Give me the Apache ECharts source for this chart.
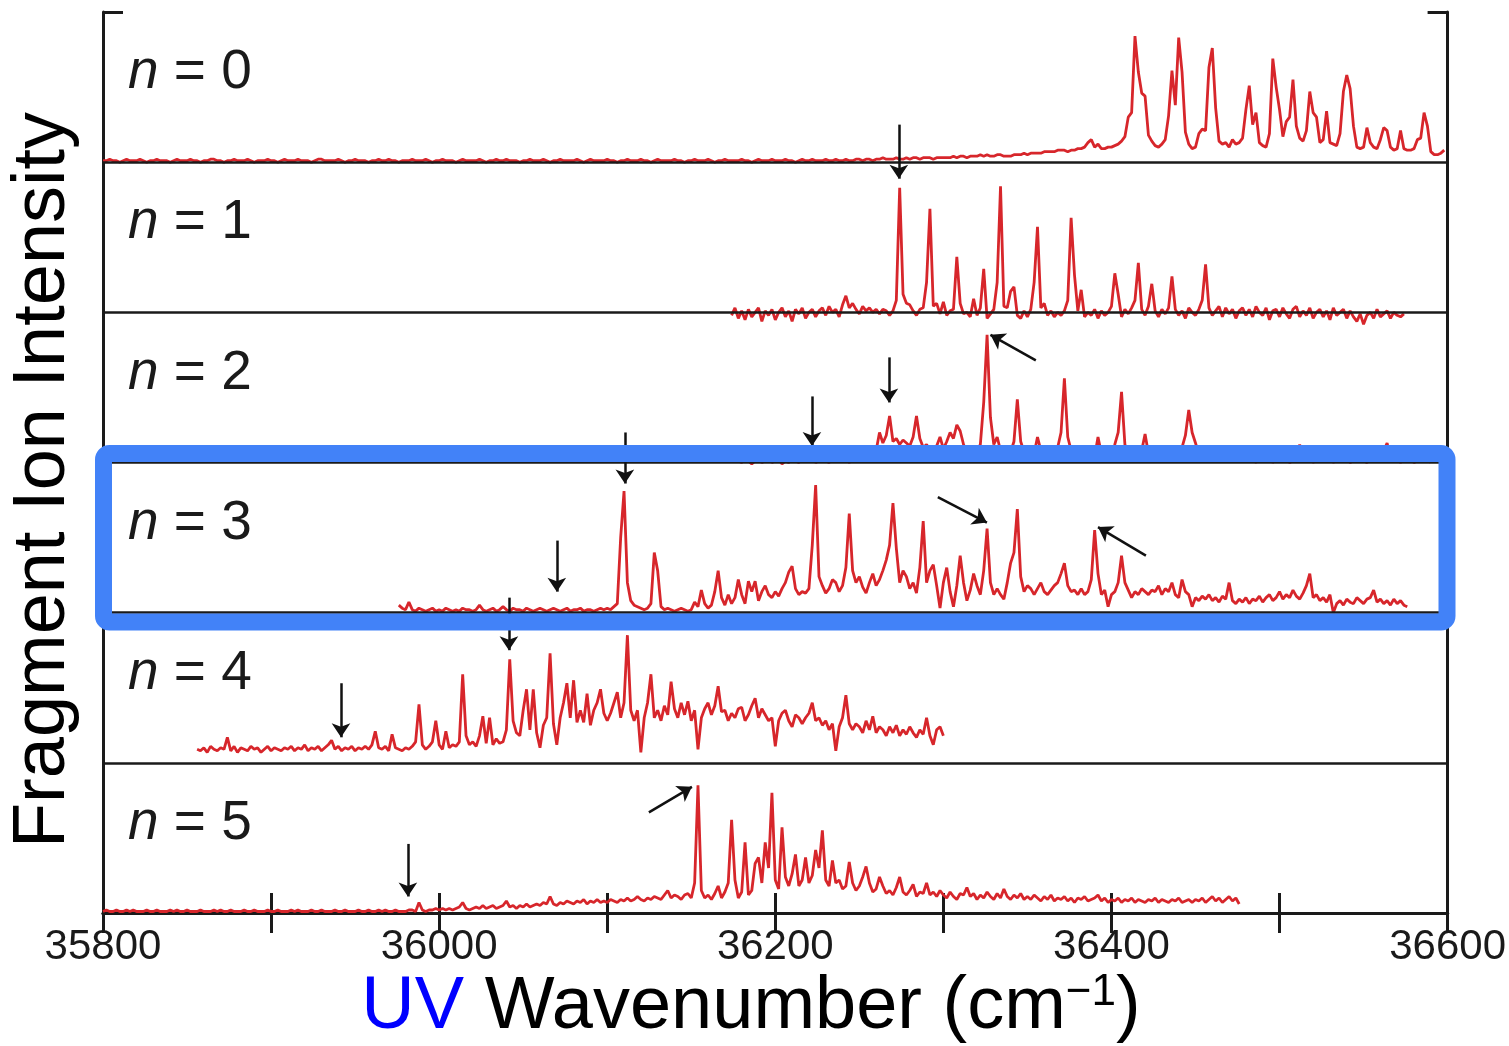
<!DOCTYPE html>
<html>
<head>
<meta charset="utf-8">
<script src="https://cdn.jsdelivr.net/npm/echarts@6/dist/echarts.min.js"></script>
<style>
  html, body { margin: 0; padding: 0; background: #fff; }
  #main { width: 1509px; height: 1046px; }
</style>
</head>
<body>
<div id="main"></div>
<script>
// spectra sampled every 2 cm-1, intensity in % of one panel height
var STEP = 2;

var n0Start = 35800;
var n0Values = [
  1,1,2,1,1,0,1,2,1,1,1,2,1,0,1,1,2,1,1,1,0,1,2,1,1,
  1,2,1,1,0,1,1,2,2,1,1,0,1,1,2,1,1,1,2,1,0,1,1,1,2,
  1,1,0,1,2,1,1,1,2,1,1,1,0,1,2,2,1,1,1,1,2,1,0,1,1,
  2,1,1,1,0,1,1,2,1,1,2,1,1,0,1,1,1,2,1,1,1,2,1,0,1,
  1,2,1,1,1,0,1,2,1,1,1,1,2,1,0,1,1,2,1,1,2,1,1,1,0,
  1,1,2,1,1,1,2,1,0,1,1,2,1,1,1,1,2,1,0,1,2,1,1,1,1,
  2,1,1,0,1,1,2,1,1,1,2,1,1,0,1,2,1,1,1,1,2,1,1,0,1,
  1,2,1,1,1,2,1,0,1,1,2,1,1,1,1,2,1,1,0,1,2,1,1,1,2,
  1,1,1,2,1,1,0,1,2,1,1,2,1,1,1,2,1,1,2,1,1,2,1,1,2,
  2,1,2,2,1,2,2,3,2,2,2,3,2,2,3,2,3,3,2,3,3,3,2,3,3,
  3,3,3,4,3,4,4,3,4,4,4,5,4,5,4,4,5,5,4,4,4,5,5,5,6,
  5,6,6,6,6,7,7,7,7,8,8,8,7,8,8,9,9,10,13,15,10,12,9,9,10,
  10,11,12,14,17,30,33,84,60,46,44,18,14,11,10,12,15,31,61,38,83,60,20,12,9,
  10,19,22,21,63,76,36,14,12,13,10,15,12,13,16,35,51,25,33,13,11,10,19,69,50,
  35,17,27,30,55,24,16,14,21,47,33,30,13,15,34,13,12,11,19,47,58,49,24,10,9,
  10,23,13,10,9,15,23,21,10,8,9,21,9,8,8,9,15,16,33,24,7,5,5,6,8
];

var n1Start = 36174;
var n1Values = [
  -2,3,-4,1,-5,2,-3,0,3,-6,1,-2,2,-5,0,3,-3,1,-6,2,-1,3,-4,0,2,
  -3,1,3,-2,4,0,2,-3,5,11,3,6,2,-1,4,1,3,0,2,-1,2,1,-2,1,8,
  83,12,6,5,1,-2,2,3,20,69,4,6,-1,7,-2,1,2,37,6,-1,0,-3,9,-2,3,
  29,-4,-1,2,20,84,4,3,14,17,-2,-4,1,-3,2,20,57,3,6,-2,1,-3,0,-2,1,
  8,63,25,1,15,-3,0,-2,2,-4,1,-2,0,4,26,12,-3,2,-1,3,8,33,2,-2,4,
  19,1,-3,2,-1,3,24,2,-2,1,-4,3,0,-2,2,8,32,3,-2,1,4,-3,3,-1,2,
  -4,1,3,-2,2,-3,4,0,-2,3,-5,1,2,-3,3,-1,-4,2,4,-3,1,-2,3,-4,0,
  2,-3,1,-5,3,-2,0,2,-4,1,-3,-6,-1,-8,-2,0,-4,2,-3,-1,1,-4,0,-2,-3,
  -1
];

var n2Start = 36178;
var n2Values = [
  1,0,2,1,-1,1,2,0,1,3,0,1,2,-1,1,0,2,1,0,2,1,1,3,0,1,
  2,1,0,2,1,3,1,2,0,2,3,1,2,4,6,3,8,20,13,18,31,14,16,12,15,
  13,11,17,31,16,10,12,8,6,11,17,9,14,20,16,25,21,12,7,10,6,8,12,40,85,
  30,12,17,8,6,10,7,14,42,14,7,5,9,6,17,8,5,7,4,6,10,20,56,17,8,
  5,7,4,6,5,8,4,17,6,4,7,5,12,20,47,12,6,4,7,5,8,19,6,4,5,
  6,3,5,4,6,3,5,10,18,35,20,13,5,3,4,2,3,2,4,3,1,3,2,4,1,
  2,3,1,2,0,3,2,1,3,0,2,1,3,2,0,1,3,12,2,1,3,0,2,1,2,
  1,3,0,2,1,3,2,0,1,3,2,1,0,2,3,1,2,8,13,3,1,2,0,2,1,
  2,0,1,3,1,2,0
];

var n3Start = 35976;
var n3Values = [
  5,3,2,7,2,1,3,2,1,2,3,1,2,1,3,2,1,2,1,3,2,2,1,2,5,
  2,1,2,3,1,2,4,2,1,3,2,2,1,3,2,1,2,3,2,1,2,3,2,1,2,
  3,1,2,2,3,1,2,2,1,2,3,2,3,2,4,6,50,81,20,8,5,4,3,2,3,
  6,40,28,4,2,3,2,1,2,3,2,1,2,7,4,15,6,3,5,14,28,10,5,12,6,
  10,22,12,6,21,14,21,8,14,18,12,10,14,11,16,20,27,31,16,12,14,13,16,45,85,
  24,18,13,16,22,20,14,18,30,66,28,20,24,17,13,20,26,18,22,28,35,45,73,43,20,
  28,24,16,20,13,30,61,20,28,32,18,3,20,30,14,4,18,38,20,8,15,26,18,12,28,
  56,20,12,16,12,9,20,33,40,69,24,14,18,16,12,16,20,14,12,15,18,20,26,33,18,
  14,15,12,16,12,14,22,55,26,12,15,4,12,14,20,38,20,15,10,14,12,16,14,12,15,
  14,18,12,16,14,20,12,10,22,14,12,4,10,8,11,9,12,8,10,7,11,9,20,8,6,
  9,7,10,6,9,8,11,7,10,12,8,10,14,9,12,10,15,11,9,13,18,26,10,12,8,
  10,7,12,0,6,8,5,9,7,6,10,8,6,9,10,15,7,9,6,8,5,9,6,8,5,
  4
];

var n4Start = 35856;
var n4Values = [
  9,8,10,7,11,9,8,10,9,17,8,11,7,10,9,8,11,9,10,7,9,11,8,10,9,
  8,10,9,11,8,10,9,12,8,10,9,11,8,10,12,15,9,11,8,10,9,11,8,10,9,
  11,9,12,21,10,9,11,8,19,10,9,8,10,9,11,14,39,12,9,11,14,28,12,9,21,
  10,12,11,14,59,18,12,14,11,18,31,13,30,12,16,13,14,22,69,28,20,18,35,49,22,
  49,20,10,25,30,73,26,12,30,40,53,30,55,27,35,27,46,25,35,40,49,33,28,33,40,
  47,30,40,85,35,28,35,7,30,40,59,30,35,28,38,32,54,36,30,40,32,41,28,35,9,
  30,36,40,32,38,51,34,35,28,33,30,36,37,28,32,38,43,30,36,32,28,30,11,28,33,
  35,28,24,32,30,26,30,33,40,28,30,25,28,22,26,8,24,30,45,26,22,26,24,20,28,
  22,31,20,24,22,18,24,20,25,18,22,19,24,20,17,22,19,30,18,12,22,24,18
];

var n5Start = 35800;
var n5Values = [
  1,2,1,1,2,1,1,2,1,2,1,1,1,2,1,1,2,1,1,1,2,1,2,1,1,
  2,1,1,1,2,1,1,1,2,1,2,1,1,2,1,1,1,2,1,1,2,1,1,1,2,
  1,1,2,1,1,1,2,1,2,1,1,1,2,1,1,2,1,1,1,2,1,1,2,1,1,
  1,2,1,1,2,1,1,2,1,2,1,1,2,1,1,1,2,2,1,7,2,1,2,2,3,
  2,3,2,3,2,3,4,7,3,2,3,4,3,5,3,4,5,3,4,5,8,4,5,3,5,
  4,6,4,5,6,5,7,6,11,6,5,7,6,8,7,6,8,7,9,6,8,7,9,7,8,
  7,9,8,7,9,8,10,8,9,11,9,8,10,9,11,10,9,12,15,10,12,11,9,12,13,
  10,20,85,15,10,12,9,13,18,10,14,20,62,22,10,14,47,12,15,33,37,20,47,30,80,
  22,16,57,24,18,26,39,18,22,37,20,25,42,30,55,22,18,35,20,22,16,18,34,20,15,
  18,24,31,20,14,16,24,18,13,15,12,17,24,14,12,15,19,11,14,13,20,12,14,11,15,
  12,10,14,11,9,13,12,17,11,13,9,12,10,14,11,9,13,10,16,11,9,12,10,13,9,
  11,9,12,10,8,11,9,12,8,10,9,11,8,10,7,10,9,11,8,9,10,12,8,10,7,
  9,8,10,7,9,8,10,7,9,8,7,9,8,10,7,9,8,7,9,8,10,7,8,9,7,
  9,8,10,7,9,11,8,10,7,9,11,8,10,6
];

// order top to bottom: n = 0 ... n = 5
var panelNames = ['0', '1', '2', '3', '4', '5'];
var panelStarts = [n0Start, n1Start, n2Start, n3Start, n4Start, n5Start];
var panelValues = [n0Values, n1Values, n2Values, n3Values, n4Values, n5Values];

// annotation arrows [x0, y0, x1, y1] in wavenumber / stacked intensity
var arrows = [
  [36273.5, 525, 36273.5, 489],
  [36355, 368, 36328, 385],
  [36267.6, 370, 36267.6, 340],
  [36221.8, 344, 36221.8, 311],
  [36110.5, 320, 36110.5, 286],
  [36070, 248, 36070, 214],
  [36296.7, 277, 36325.9, 260],
  [36420.5, 238, 36392, 257],
  [36041.5, 210, 36041.5, 175],
  [35941.6, 153, 35941.6, 117],
  [36124.8, 67, 36150.4, 84],
  [35981.4, 46, 35981.4, 11]
];

var FONT = '"Liberation Sans", Arial, Helvetica, sans-serif';
var RED = '#d7262b';
var INK = '#1a1a1a';

function build(start, vals, offset) {
  return vals.map(function (v, i) {
    return [start + i * STEP, v + offset];
  });
}

var chart = echarts.init(document.getElementById('main'));

var series = panelValues.map(function (vals, k) {
  return {
    type: 'line',
    name: 'n = ' + panelNames[k],
    data: build(panelStarts[k], vals, (5 - k) * 100),
    showSymbol: false,
    silent: true,
    z: 3,
    lineStyle: { color: RED, width: 2.8 }
  };
});

// panel separators
series.push({
  type: 'line',
  data: [],
  z: 2,
  markLine: {
    silent: true,
    symbol: 'none',
    animation: false,
    label: { show: false },
    lineStyle: { color: INK, width: 2.5, type: 'solid' },
    data: [100, 200, 300, 400, 500].map(function (v) { return { yAxis: v }; })
  }
});

// arrows
series.push({
  type: 'line',
  data: [],
  z: 4,
  markLine: {
    silent: true,
    symbol: ['none', 'arrow'],
    symbolSize: 14,
    animation: false,
    label: { show: false },
    lineStyle: { color: '#111', width: 2.5, type: 'solid' },
    data: arrows.map(function (a) {
      return [{ coord: [a[0], a[1]] }, { coord: [a[2], a[3]] }];
    })
  }
});

var axisLineStyle = { color: INK, width: 3 };

var graphics = [];
panelNames.forEach(function (name, k) {
  graphics.push({
    type: 'text',
    x: 128,
    y: 73 + k * 150.17,
    style: {
      text: '{i|n}{r| = ' + name + '}',
      align: 'left',
      verticalAlign: 'middle',
      rich: {
        i: { fontSize: 55, fontFamily: FONT, fontStyle: 'italic', fill: INK },
        r: { fontSize: 55, fontFamily: FONT, fill: INK }
      }
    }
  });
});
graphics.push({
  type: 'text',
  x: 44,
  y: 480,
  rotation: Math.PI / 2,
  style: {
    text: 'Fragment Ion Intensity',
    fontSize: 74,
    fontFamily: FONT,
    fill: '#000',
    align: 'center',
    verticalAlign: 'middle'
  }
});
graphics.push({
  type: 'text',
  x: 751,
  y: 1008,
  style: {
    text: '{b|UV}{k| Wavenumber (cm}{s|\u22121}{k|)}',
    align: 'center',
    verticalAlign: 'middle',
    rich: {
      b: { fontSize: 74, fontFamily: FONT, fill: '#0000ff' },
      k: { fontSize: 74, fontFamily: FONT, fill: '#000' },
      s: { fontSize: 44, fontFamily: FONT, fill: '#000', verticalAlign: 'top' }
    }
  }
});
graphics.push({
  type: 'rect',
  z: 100,
  shape: { x: 103.5, y: 453.5, width: 1343.5, height: 168.5, r: 6 },
  style: { fill: 'none', stroke: '#4282f8', lineWidth: 17 }
});

var option = {
  animation: false,
  backgroundColor: '#fff',
  grid: { left: 103, right: 61, top: 12, bottom: 133 },
  xAxis: [
    {
      type: 'value',
      min: 35800,
      max: 36600,
      interval: 100,
      position: 'bottom',
      axisLine: { lineStyle: axisLineStyle },
      axisTick: { inside: true, length: 20, lineStyle: { color: INK, width: 3 } },
      axisLabel: {
        fontSize: 42,
        fontFamily: FONT,
        color: INK,
        margin: 13,
        formatter: function (v) { return v % 200 === 0 ? String(v) : ''; }
      },
      splitLine: { show: false }
    },
    {
      type: 'value',
      min: 35800,
      max: 36600,
      interval: 100,
      position: 'top',
      axisLine: { lineStyle: axisLineStyle },
      axisTick: { inside: true, length: 20, lineStyle: { color: INK, width: 3 } },
      axisLabel: { show: false },
      splitLine: { show: false }
    }
  ],
  yAxis: [
    {
      type: 'value',
      min: 0,
      max: 600,
      interval: 600,
      position: 'left',
      axisLine: { show: true, lineStyle: axisLineStyle },
      axisTick: { show: true, inside: true, length: 20, lineStyle: { color: INK, width: 3 } },
      axisLabel: { show: false },
      splitLine: { show: false }
    },
    {
      type: 'value',
      min: 0,
      max: 600,
      interval: 600,
      position: 'right',
      axisLine: { show: true, lineStyle: axisLineStyle },
      axisTick: { show: true, inside: true, length: 20, lineStyle: { color: INK, width: 3 } },
      axisLabel: { show: false },
      splitLine: { show: false }
    }
  ],
  graphic: graphics,
  series: series
};

chart.setOption(option);
</script>
</body>
</html>
